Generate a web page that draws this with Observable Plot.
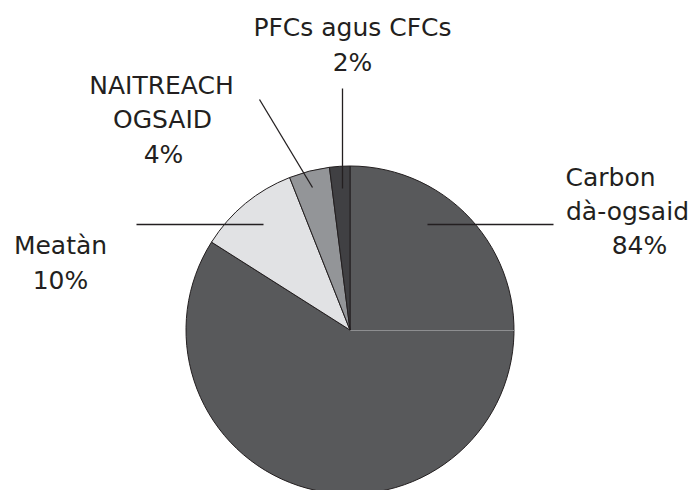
<!DOCTYPE html>
<html>
<head>
<meta charset="utf-8">
<script src="https://cdn.jsdelivr.net/npm/d3@7"></script>
<script src="https://cdn.jsdelivr.net/npm/@observablehq/plot@0.6"></script>
<style>
  html, body { margin: 0; padding: 0; background: #fff; }
</style>
</head>
<body>
<div id="chart"></div>
<script>
// Data
const categories = ["Carbon dà-ogsaid", "Meatàn", "NAITREACH OGSAID", "PFCs agus CFCs"];
const shares = [84, 10, 4, 2];
const labelLines = [["Carbon", "dà-ogsaid", "84%"], ["Meatàn", "10%"], ["NAITREACH", "OGSAID", "4%"], ["PFCs agus CFCs", "2%"]];
const colors = ["#58595b", "#e1e2e4", "#939598", "#404043"];

// Layout (pixels)
const W = 694, H = 490;
const center = {x: 350, y: 330}, R = 164;
const labelPos = [
  [[610, 177], [627, 211], [639, 245]],
  [[60, 245], [60, 280]],
  [[161, 85], [162, 119], [163, 154]],
  [[352, 27], [352, 62]]
];
const leaders = [
  [[427, 224], [553, 224]],
  [[136, 224], [263, 224]],
  [[259, 99], [312, 187]],
  [[342, 88], [342, 188]]
];

const slices = categories.map((c, i) => ({name: c, value: shares[i], color: colors[i]}));
const pie = d3.pie().sort(null).value(d => d.value).startAngle(0).endAngle(2 * Math.PI)(slices);

const texts = [];
labelLines.forEach((lines, i) => lines.forEach((t, j) => texts.push({text: t, x: labelPos[i][j][0], y: labelPos[i][j][1]})));
const links = leaders.map(([a, b]) => ({x1: a[0], y1: a[1], x2: b[0], y2: b[1]}));

function pieMark(index, scales) {
  const cx = scales.x(center.x), cy = scales.y(center.y);
  const r = scales.x(center.x + R) - cx;
  const arc = d3.arc().innerRadius(0).outerRadius(r);
  const g = d3.create("svg:g").attr("transform", `translate(${cx},${cy})`);
  g.selectAll("path").data(pie).join("path")
    .attr("d", arc)
    .attr("fill", d => d.data.color)
    .attr("stroke", "#231f20")
    .attr("stroke-width", 1)
    .attr("stroke-linejoin", "round");
  return g.node();
}

const chart = Plot.plot({
  width: W, height: H,
  margin: 0,
  x: {domain: [0, W], range: [0, W], axis: null},
  y: {domain: [0, H], range: [0, H], axis: null},
  style: {fontFamily: "'DejaVu Sans', sans-serif", background: "#fff"},
  marks: [
    pieMark,
    Plot.link([{x1: center.x, y1: center.y, x2: center.x + R, y2: center.y}], {x1: "x1", y1: "y1", x2: "x2", y2: "y2", stroke: "#8d8e90", strokeWidth: 1.2}),
    Plot.link(links, {x1: "x1", y1: "y1", x2: "x2", y2: "y2", stroke: "#231f20", strokeWidth: 1.3}),
    Plot.text(texts, {x: "x", y: "y", text: "text", fontSize: 25, fill: "#231f20", textAnchor: "middle"})
  ]
});
document.getElementById("chart").append(chart);
</script>
</body>
</html>
